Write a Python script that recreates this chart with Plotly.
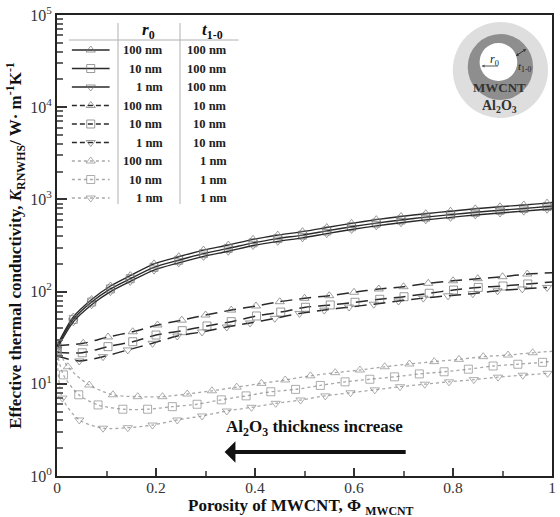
import plotly.graph_objects as go

# ---------------- data ----------------
# solid lines: t1-0 = 100 nm
x_t100 = [0, 0.033, 0.07, 0.108, 0.148, 0.196, 0.246, 0.296, 0.346, 0.396, 0.446,
          0.496, 0.545, 0.595, 0.645, 0.695, 0.745, 0.795, 0.845, 0.895, 0.943, 0.99, 1.0]
k_r100_t100 = [26, 53, 82, 115, 149, 200, 239, 282, 320, 369, 410,
               447, 495, 550, 603, 653, 700, 745, 791, 832, 871, 912, 925]
k_r10_t100 = [25, 50, 77, 107, 138, 183, 219, 258, 294, 338, 376,
              410, 455, 505, 553, 598, 642, 683, 725, 762, 798, 836, 845]
k_r1_t100 = [24, 47, 72, 100, 129, 171, 205, 241, 274, 316, 351,
             383, 425, 472, 517, 559, 600, 638, 678, 712, 746, 782, 790]

# dashed lines: t1-0 = 10 nm
x_r100_t10 = [0, 0.053, 0.103, 0.153, 0.203, 0.252, 0.3, 0.352, 0.402, 0.45, 0.5,
              0.55, 0.6, 0.65, 0.7, 0.75, 0.8, 0.85, 0.9, 0.95, 1.0]
k_r100_t10 = [26, 27.5, 32.2, 36.7, 43.4, 49, 55.7, 63, 69.8, 77.7, 84.6,
              90.3, 98.3, 106.7, 113, 123, 131, 138, 145, 155, 160]
x_r10_t10 = [0, 0.051, 0.103, 0.153, 0.2, 0.253, 0.303, 0.352, 0.403, 0.452, 0.502,
             0.552, 0.602, 0.652, 0.701, 0.752, 0.801, 0.851, 0.901, 0.951, 1.0]
k_r10_t10 = [22, 21.7, 25.3, 28.6, 33.8, 37.7, 42.4, 47.2, 54.4, 60, 67.6,
             71.6, 76.6, 82.5, 88, 95.9, 104, 111, 115, 121, 127]
x_r1_t10 = [0, 0.045, 0.093, 0.143, 0.193, 0.243, 0.293, 0.343, 0.39, 0.44, 0.49,
            0.54, 0.59, 0.64, 0.69, 0.74, 0.79, 0.84, 0.89, 0.94, 0.99]
k_r1_t10 = [20, 17.7, 19.7, 23.3, 27.5, 33, 36.5, 41.3, 45.7, 51.3, 58,
            63, 68, 73, 79, 85, 90, 95, 102, 107, 111]

# dotted lines: t1-0 = 1 nm
x_r100_t1 = [0, 0.022, 0.065, 0.113, 0.163, 0.213, 0.263, 0.313, 0.363, 0.413, 0.461,
             0.512, 0.562, 0.612, 0.662, 0.712, 0.762, 0.812, 0.861, 0.911, 0.961, 1.0]
k_r100_t1 = [25, 15.3, 9.7, 7.6, 7.25, 7.25, 7.75, 8.4, 9.2, 10.1, 11.0,
             12.2, 13.2, 14.1, 15.3, 16.4, 17.4, 18.4, 19.7, 20.5, 21.7, 22.5]
x_r10_t1 = [0, 0.013, 0.044, 0.083, 0.133, 0.183, 0.233, 0.283, 0.332, 0.382, 0.432,
            0.482, 0.532, 0.582, 0.632, 0.682, 0.732, 0.782, 0.831, 0.881, 0.931, 0.981, 1.0]
k_r10_t1 = [22, 12.5, 7.6, 5.9, 5.3, 5.3, 5.65, 6.0, 6.7, 7.4, 8.2,
            8.7, 9.6, 10.5, 11.2, 11.9, 12.8, 13.5, 14.4, 15.6, 16.3, 17.1, 17.5]
x_r1_t1 = [0, 0.011, 0.045, 0.093, 0.143, 0.193, 0.243, 0.293, 0.343, 0.393, 0.442,
           0.492, 0.542, 0.593, 0.642, 0.693, 0.743, 0.792, 0.842, 0.891, 0.941, 0.991]
k_r1_t1 = [20, 7.0, 4.05, 3.3, 3.34, 3.57, 4.05, 4.48, 5.07, 5.56, 6.14,
           6.67, 7.4, 8.0, 8.6, 9.3, 9.9, 10.5, 11.1, 11.8, 12.4, 13.0]

r0_labels = ["100 nm", "10 nm", "1 nm", "100 nm", "10 nm", "1 nm", "100 nm", "10 nm", "1 nm"]
t_labels = ["100 nm", "100 nm", "100 nm", "10 nm", "10 nm", "10 nm", "1 nm", "1 nm", "1 nm"]

x_ticks = [0, 0.2, 0.4, 0.6, 0.8, 1]
x_ticktext = ["0", "0.2", "0.4", "0.6", "0.8", "1"]
y_ticks = [1, 10, 100, 1000, 10000, 100000]
y_ticktext = ["10<sup>0</sup>", "10<sup>1</sup>", "10<sup>2</sup>", "10<sup>3</sup>",
              "10<sup>4</sup>", "10<sup>5</sup>"]

# ---------------- styles ----------------
SERIF = "Liberation Serif"
DARK = "#2a2a2a"
DOT = "#a8a8a8"
MK = "#707070"
MKD = "#8a8a8a"
SYM = ["triangle-up-open", "square-open", "triangle-down-open"]

series = [
    (x_t100, k_r100_t100, "solid"), (x_t100, k_r10_t100, "solid"), (x_t100, k_r1_t100, "solid"),
    (x_r100_t10, k_r100_t10, "dash"), (x_r10_t10, k_r10_t10, "dash"), (x_r1_t10, k_r1_t10, "dash"),
    (x_r100_t1, k_r100_t1, "dot"), (x_r10_t1, k_r10_t1, "dot"), (x_r1_t1, k_r1_t1, "dot"),
]

fig = go.Figure()
for i, (xs, ks, style) in enumerate(series):
    sizes = [8] * len(xs)
    if xs[-1] == 1.0:
        sizes[-1] = 0
    if style == "solid":
        line = dict(color=DARK, width=1.4, shape="spline", smoothing=0.8)
        mcol = MK
    elif style == "dash":
        line = dict(color=DARK, width=1.5, dash="12px,7px", shape="spline", smoothing=0.8)
        mcol = MK
    else:
        line = dict(color=DOT, width=1.3, dash="dot", shape="spline", smoothing=0.8)
        mcol = MKD
    fig.add_trace(go.Scatter(
        x=xs, y=ks, mode="lines+markers", line=line,
        marker=dict(symbol=SYM[i % 3], size=sizes, color=mcol, line=dict(width=1, color=mcol)),
        showlegend=False, xaxis="x", yaxis="y", cliponaxis=True))

# ---------------- legend table (pixel-like overlay axes) ----------------
row_y = [50, 68.5, 87, 105.5, 124, 142.5, 161, 179.5, 198]
for i in range(9):
    style = series[i][2]
    if style == "solid":
        line = dict(color=DARK, width=1.4)
        mcol = MK
    elif style == "dash":
        line = dict(color=DARK, width=1.3, dash="5px,3px")
        mcol = MK
    else:
        line = dict(color=DOT, width=1.3, dash="dot")
        mcol = MKD
    fig.add_trace(go.Scatter(
        x=[72, 91, 110], y=[row_y[i]] * 3, mode="lines+markers", line=line,
        marker=dict(symbol=SYM[i % 3], size=[0, 8, 0], color=mcol, line=dict(width=1, color=mcol)),
        showlegend=False, xaxis="x2", yaxis="y2", hoverinfo="skip"))

annotations = []
shapes = []
for i in range(9):
    annotations.append(dict(x=166, y=row_y[i], xref="x2", yref="y2", text="<b>%s</b>" % r0_labels[i],
                            showarrow=False, xanchor="right", yanchor="middle",
                            font=dict(family=SERIF, size=12.5, color="#222")))
    annotations.append(dict(x=230, y=row_y[i], xref="x2", yref="y2", text="<b>%s</b>" % t_labels[i],
                            showarrow=False, xanchor="right", yanchor="middle",
                            font=dict(family=SERIF, size=12.5, color="#222")))
annotations.append(dict(x=149, y=31, xref="x2", yref="y2", text="<b><i>r</i><sub>0</sub></b>",
                        showarrow=False, font=dict(family=SERIF, size=17, color="#111")))
annotations.append(dict(x=214, y=31, xref="x2", yref="y2", text="<b><i>t</i><sub>1-0</sub></b>",
                        showarrow=False, font=dict(family=SERIF, size=17, color="#111")))
shapes.append(dict(type="line", xref="x2", yref="y2", x0=69, x1=240, y0=40, y1=40,
                   line=dict(color="#b0b0b0", width=1)))
for xv in (118.5, 181):
    shapes.append(dict(type="line", xref="x2", yref="y2", x0=xv, x1=xv, y0=23, y1=204,
                       line=dict(color="#b0b0b0", width=1)))

# ---------------- inset diagram ----------------
shapes.append(dict(type="circle", xref="x2", yref="y2", x0=456, x1=552, y0=22, y1=118,
                   fillcolor="#dedede", line=dict(width=0), layer="below"))
shapes.append(dict(type="circle", xref="x2", yref="y2", x0=471, x1=537, y0=34, y1=100,
                   fillcolor="#8e8e8e", line=dict(width=0), layer="below"))
shapes.append(dict(type="circle", xref="x2", yref="y2", x0=483, x1=521, y0=43, y1=81,
                   fillcolor="#ffffff", line=dict(width=0), layer="below"))
annotations.append(dict(x=503, y=87, xref="x2", yref="y2", text="<b>MWCNT</b>", showarrow=False,
                        font=dict(family=SERIF, size=13, color="#333")))
annotations.append(dict(x=503, y=106, xref="x2", yref="y2", text="<b>Al<sub>2</sub>O<sub>3</sub></b>",
                        showarrow=False, font=dict(family=SERIF, size=14, color="#333")))
annotations.append(dict(x=498, y=60, xref="x2", yref="y2", text="<i>r</i><sub>0</sub>", showarrow=False,
                        font=dict(family=SERIF, size=12, color="#222")))
annotations.append(dict(x=528, y=67, xref="x2", yref="y2", text="<i>t</i><sub>1-0</sub>", showarrow=False,
                        font=dict(family=SERIF, size=11, color="#222")))
annotations.append(dict(x=485, y=66, ax=503, ay=66, xref="x2", yref="y2", axref="x2", ayref="y2",
                        text="", showarrow=True, arrowhead=2, arrowsize=0.6, arrowwidth=1,
                        arrowcolor="#555"))
annotations.append(dict(x=530, y=49, ax=518, ay=57, xref="x2", yref="y2", axref="x2", ayref="y2",
                        text="", showarrow=True, arrowhead=2, startarrowhead=2, arrowside="end+start",
                        arrowsize=0.6, startarrowsize=0.6, arrowwidth=1, arrowcolor="#333"))

# ---------------- big arrow + label ----------------
annotations.append(dict(x=317, y=428, xref="x2", yref="y2",
                        text="<b>Al<sub>2</sub>O<sub>3</sub> thickness increase</b>", showarrow=False,
                        font=dict(family=SERIF, size=17, color="#111")))
annotations.append(dict(x=226, y=452, ax=410, ay=452, xref="x2", yref="y2", axref="x2", ayref="y2",
                        text="", showarrow=True, arrowhead=1, arrowsize=0.9, arrowwidth=4,
                        arrowcolor="#111"))

# ---------------- x axis title (as annotation, below tick labels) ----------------
annotations.append(dict(x=0.493, y=-0.068, xref="paper", yref="paper", xanchor="center", yanchor="middle",
                        text="<b>Porosity of MWCNT, Φ <sub>MWCNT</sub></b>", showarrow=False,
                        font=dict(family=SERIF, size=17, color="#111")))

fig.update_layout(
    width=560, height=517,
    margin=dict(l=57, r=4, t=15, b=41),
    paper_bgcolor="white", plot_bgcolor="white",
    xaxis=dict(range=[0, 1], tickvals=x_ticks, ticktext=x_ticktext, ticks="inside", ticklen=8,
               tickwidth=1.5, tickcolor="#333", ticklabelstandoff=-4,
               minor=dict(tickvals=[0.1, 0.3, 0.5, 0.7, 0.9], ticks="inside", ticklen=5, tickcolor="#666"),
               showline=True, linewidth=2, linecolor="#222", mirror=True, showgrid=False, zeroline=False,
               tickfont=dict(family=SERIF, size=15.5, color="#333")),
    yaxis=dict(type="log", range=[0, 5], tickvals=y_ticks, ticktext=y_ticktext, ticks="inside",
               ticklen=10, tickwidth=1.5, tickcolor="#333",
               minor=dict(tickvals=[m * 10 ** k for k in range(5) for m in range(2, 10)],
                          ticks="inside", ticklen=6, tickcolor="#666"),
               showline=True, linewidth=2, linecolor="#222", mirror=True, showgrid=False, zeroline=False,
               tickfont=dict(family=SERIF, size=16, color="#333"),
               title=dict(text="<b>Effective thermal conductivity, <i>K</i><sub>RNWHS</sub>/ W· m<sup>-1</sup>K<sup>-1</sup></b>",
                          standoff=4, font=dict(family=SERIF, size=17, color="#111"))),
    xaxis2=dict(overlaying="x", range=[57, 556], visible=False, anchor="y2"),
    yaxis2=dict(overlaying="y", range=[476, 15], visible=False, anchor="x2"),
    annotations=annotations,
    shapes=shapes,
    showlegend=False,
)

fig.write_html("out.html")
